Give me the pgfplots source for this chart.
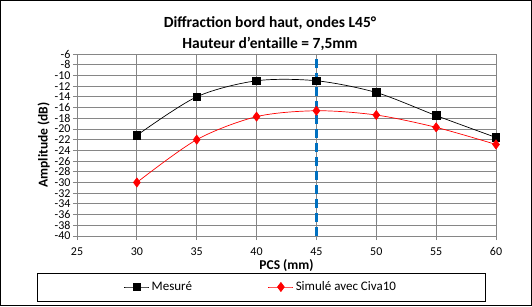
\documentclass[border=0pt]{standalone}
\usepackage{pgfplots}
\pgfplotsset{compat=1.18}
\usepackage{fontspec}
\setmainfont{Carlito}
\definecolor{gridgray}{RGB}{134,134,134}
\definecolor{dashblue}{RGB}{0,112,192}
\begin{document}
\begin{tikzpicture}[x=1pt,y=1pt]
\begin{axis}[
  at={(0pt,0pt)}, anchor=south west,
  scale only axis, width=419pt, height=182pt,
  xmin=25, xmax=60, ymin=-40, ymax=-6,
  xtick={25,30,...,60}, ytick={-40,-38,...,-6},
  grid=major,
  major grid style={gridgray, line width=0.8pt},
  axis line style={gridgray, line width=0.8pt},
  tick style={gridgray, line width=0.8pt},
  tick align=outside, major tick length=4pt,
  xtick pos=bottom, ytick pos=left,
  tick label style={font=\fontsize{12}{12}\selectfont, black},
  /pgf/number format/assume math mode=true,
  yticklabel style={xshift=1pt, inner ysep=0pt},
  xticklabel style={yshift=-4pt},
  xlabel={\textbf{PCS (mm)}},
  ylabel={\textbf{Amplitude (dB)}},
  label style={font=\fontsize{13.5}{13.5}\selectfont},
  xlabel style={yshift=3pt},
  ylabel style={yshift=-2pt},
  legend columns=2,
  legend style={draw=none, fill=none, at={(-40pt+224pt,-51pt)}, anchor=center,
    font=\fontsize{13}{13}\selectfont,
    /tikz/every even column/.append style={column sep=74pt}},
  legend image code/.code={\draw[mark repeat=2,mark phase=2,#1] plot coordinates {(0pt,0pt) (12.5pt,0pt) (25pt,0pt)};},
  legend cell align=left,
  clip=false,
]
\addplot[black, line width=0.7pt, smooth, tension=0.5, mark=square*, mark size=3.8pt, mark options={solid, fill=black}]
  coordinates {(30,-21.2) (35,-14.0) (40,-11.0) (45,-11.0) (50,-13.2) (55,-17.5) (60,-21.6)};
\addlegendentry{Mesuré}
\addplot[red, line width=0.7pt, smooth, tension=0.5, mark=diamond*, mark size=4.5pt, mark options={solid, fill=red}]
  coordinates {(30,-30.0) (35,-22.0) (40,-17.7) (45,-16.6) (50,-17.4) (55,-19.7) (60,-22.9)};
\addlegendentry{Simulé avec Civa10}
\addplot[dashblue, line width=2.4pt, dash pattern=on 9pt off 5pt, forget plot]
  coordinates {(45,-40) (45,-6)};
\end{axis}
\node[font=\bfseries\fontsize{15.5}{15.5}\selectfont] at (193pt,213pt) {Diffraction bord haut, ondes L45°};
\node[font=\bfseries\fontsize{15.5}{15.5}\selectfont] at (193pt,192pt) {Hauteur d'entaille = 7,5mm};
\draw[black, line width=0.8pt] (-40pt,-37pt) rectangle (408pt,-65pt);
\draw[black, line width=1.2pt] (-76.4pt,-69.4pt) rectangle (454.4pt,235.4pt);
\end{tikzpicture}
\end{document}
